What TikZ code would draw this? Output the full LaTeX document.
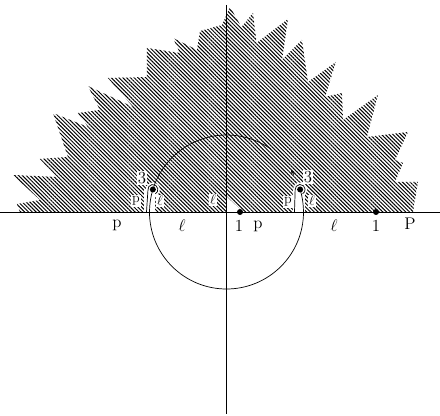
\documentclass[tikz,border=0pt]{standalone}
\usepackage{amsmath, amssymb}
\usepackage{tikz}
\usetikzlibrary{calc, patterns.meta}

\tikzset{
  hatch/.style={pattern={Lines[angle=-45,distance=2.3pt,line width=0.85pt]}},
  lbl/.style={font=\Large, inner sep=1pt},
  wlbl/.style={font=\large, inner sep=1pt, fill=white},
}

\begin{document}
\begin{tikzpicture}[>=stealth, x=0.03cm, y=0.03cm, line width=0.6pt]
    \useasboundingbox (-226.5,-204) rectangle (213.5,212);

    % =================================================================
    % 1. COORDINATES
    % =================================================================
    \coordinate (O) at (0,0);
    \coordinate (W) at (-226.5,0);
    \coordinate (E) at (213.5,0);
    \coordinate (N) at (0,207);
    \coordinate (S) at (0,-202);
    \coordinate (Dl) at (163:77);
    \coordinate (Dr) at (17:77);
    \coordinate (Q1) at (13.5,0);
    \coordinate (Q2) at (149.5,0);

    % =================================================================
    % 2. HATCHED REGION
    % =================================================================
    \fill[hatch] (-206.5,0) -- (-209.5,8) -- (-186.5,12) -- (-213.5,37)
        -- (-169.5,35) -- (-186.5,53) -- (-158.5,55) -- (-173.5,99)
        -- (-138.5,85) -- (-148.5,99) -- (-126.5,102) -- (-138.5,126)
        -- (-93.5,105) -- (-118.5,134) -- (-79.5,135) -- (-79.5,164)
        -- (-46.5,159) -- (-53.5,174) -- (-29.5,162) -- (-26.5,181)
        -- (-4.5,187) -- (3.5,205) -- (15,185) -- (26.5,199)
        -- (30,169) -- (61.5,193) -- (55.5,152) -- (75.5,172)
        -- (81.5,130) -- (109.5,150) -- (98.5,115) -- (115.5,119)
        -- (116.5,92) -- (151.5,117) -- (140.5,75) -- (181.5,80)
        -- (168.5,52) -- (176.5,49) -- (168.5,30) -- (191.5,30)
        -- (186.5,0) -- cycle;

    % slits cut out of the hatching
    \fill[white] ($(Dl)+(-8.5,-22.51)$) rectangle ($(Dl)+(2.5,0)$);
    \fill[white] (Dl) circle (7);
    \fill[white] ($(Dr)+(-7.5,-22.51)$) rectangle ($(Dr)+(5,0)$);
    \fill[white] (Dr) circle (7);
    \fill[white] (0.5,15) -- (16.5,0) -- (0.5,0) -- cycle;

    % =================================================================
    % 3. AXES AND CIRCLE
    % =================================================================
    \draw (W) -- (E);
    \draw (N) -- (S);

    % lower half and the pieces up to the points 3
    \draw (-77,0) arc[start angle=180, end angle=360, radius=77];
    \draw (-77,0) arc[start angle=180, end angle=163, radius=77];
    \draw (77,0) arc[start angle=0, end angle=17, radius=77];

    % upper arc with its arrow
    \draw (Dl) arc[start angle=163, end angle=55, radius=77];
    \draw[->] (29:77) arc[start angle=29, end angle=33, radius=77];

    % small loops round the points 3
    \draw (-80,0) -- ($(Dl)+(190:5)$) arc[start angle=190, end angle=-60, radius=5];
    \draw (68,0) -- ($(Dr)+(185:5)$) arc[start angle=185, end angle=-60, radius=5];

    \fill (Dl) circle (3);
    \fill (Dr) circle (3);
    \fill (Q1) circle (3);
    \fill (Q2) circle (3);

    % =================================================================
    % 4. LABELS
    % =================================================================
    \node[wlbl, font=\Large] (tl) at (-84.5,34) {3};
    \node[wlbl, font=\Large] (tr) at (81.5,35) {3};
    \node[wlbl] (pl) at (-90.5,11) {p};
    \node[wlbl] (ll) at (-66.5,11) {$\ell$};
    \node[wlbl] (pr) at (61.5,10) {p};
    \node[wlbl] (lr) at (85.5,11) {$\ell$};
    \node[wlbl] (lo) at (-13.5,12) {$\ell$};

    \node[lbl] (p1) at (-109.5,-13) {p};
    \node[lbl] (l1) at (-44.5,-14) {$\ell$};
    \node[lbl] (o1) at (12.5,-14) {1};
    \node[lbl] (p2) at (31.5,-14) {p};
    \node[lbl] (l2) at (107.5,-14) {$\ell$};
    \node[lbl] (o2) at (149.5,-14) {1};
    \node[lbl] (p3) at (183.5,-12) {P};

\end{tikzpicture}
\end{document}
